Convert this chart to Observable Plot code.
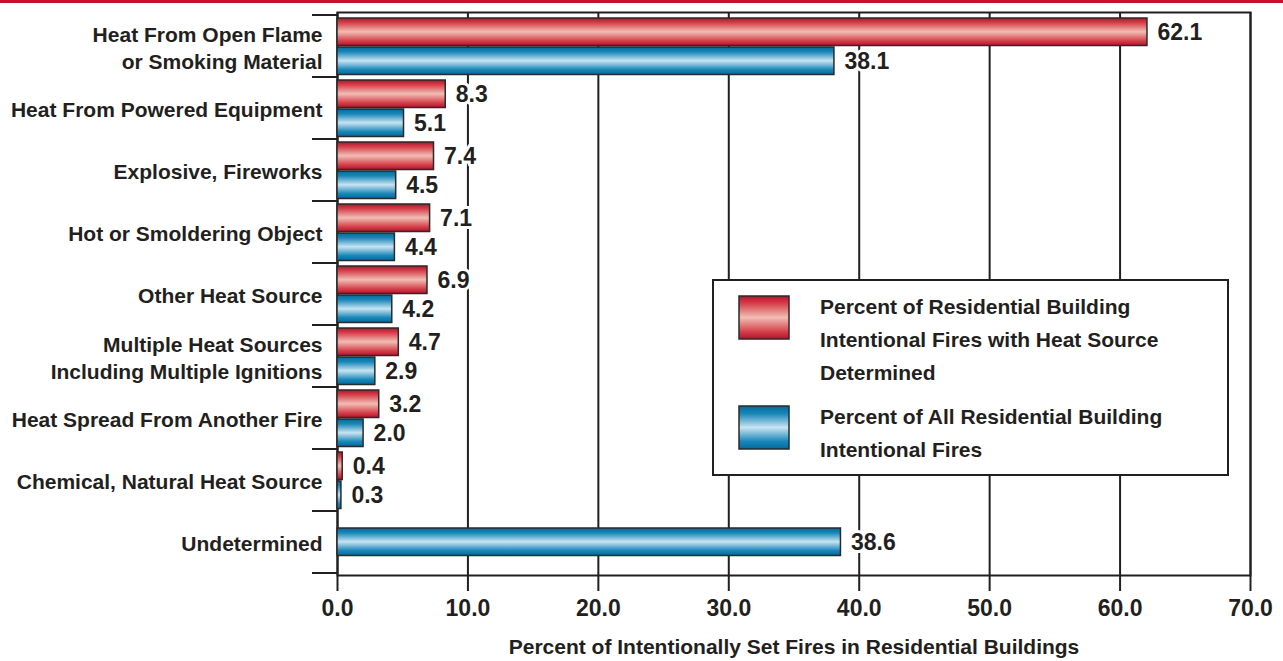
<!DOCTYPE html>
<html><head><meta charset="utf-8">
<script src="https://cdn.jsdelivr.net/npm/d3@7"></script>
<script src="https://cdn.jsdelivr.net/npm/@observablehq/plot@0.6"></script>
<style>
html,body{margin:0;padding:0;background:#fff;overflow:hidden;font-family:"Liberation Sans",Arial,sans-serif;}
#wrap{width:1283px;height:661px;}
#wrap svg{display:block;}
</style></head><body>
<div id="wrap"></div>
<script>
const categories = ["Heat From Open Flame\nor Smoking Material", "Heat From Powered Equipment", "Explosive, Fireworks", "Hot or Smoldering Object", "Other Heat Source", "Multiple Heat Sources\nIncluding Multiple Ignitions", "Heat Spread From Another Fire", "Chemical, Natural Heat Source", "Undetermined"];
const determinedPct = [62.1, 8.3, 7.4, 7.1, 6.9, 4.7, 3.2, 0.4, null];
const allPct = [38.1, 5.1, 4.5, 4.4, 4.2, 2.9, 2.0, 0.3, 38.6];
const xTicks = [0, 10, 20, 30, 40, 50, 60, 70];
const seriesNames = [
  ["Percent of Residential Building", "Intentional Fires with Heat Source", "Determined"],
  ["Percent of All Residential Building", "Intentional Fires"]
];
const xLabel = "Percent of Intentionally Set Fires in Residential Buildings";

const ink = "#231f20";
const fmt = d3.format(".1f");
const redRows = categories.map((c, i) => ({cat: c, v: determinedPct[i]})).filter(d => d.v != null);
const bluePaired = categories.map((c, i) => ({cat: c, v: allPct[i], paired: determinedPct[i] != null})).filter(d => d.paired);
const blueSingle = categories.map((c, i) => ({cat: c, v: allPct[i], paired: determinedPct[i] != null})).filter(d => !d.paired);

const barStroke = {stroke: "#2a2a2a", strokeWidth: 1.5};
const labelStyle = {textAnchor: "start", dx: 10, fill: ink, fontSize: 23, stroke: "white", strokeWidth: 6, paintOrder: "stroke"};

const plot = Plot.plot({
  width: 1283, height: 661,
  marginTop: 12, marginBottom: 86, marginLeft: 337, marginRight: 33,
  style: {fontFamily: "'Liberation Sans', Arial, sans-serif", fontSize: "21px", fontWeight: "bold", color: ink, background: "#fff"},
  x: {domain: [0, 70]},
  y: {domain: categories, padding: 0, axis: null},
  marks: [
    Plot.ruleX(xTicks, {stroke: ink, strokeWidth: 2}),
    Plot.frame({stroke: ink, strokeWidth: 2}),
    Plot.axisX({ticks: xTicks, tickSize: 16, tickPadding: 8, tickFormat: fmt, strokeWidth: 2, fontSize: 23,
      label: null}),
    Plot.axisX({ticks: [], tickSize: 0, label: xLabel, labelAnchor: "center", labelArrow: "none", labelOffset: 78, fontSize: 21}),
    Plot.barX(redRows, {y: "cat", x: "v", fill: "url(#gradRed)", insetTop: 3, insetBottom: 31.5, ...barStroke}),
    Plot.barX(bluePaired, {y: "cat", x: "v", fill: "url(#gradBlue)", insetTop: 32, insetBottom: 2.5, ...barStroke}),
    Plot.barX(blueSingle, {y: "cat", x: "v", fill: "url(#gradBlue)", insetTop: 17, insetBottom: 17.5, ...barStroke}),
    Plot.text(redRows, {y: "cat", x: "v", text: d => fmt(d.v), dy: -14.3, ...labelStyle}),
    Plot.text(bluePaired, {y: "cat", x: "v", text: d => fmt(d.v), dy: 14.7, ...labelStyle}),
    Plot.text(blueSingle, {y: "cat", x: "v", text: d => fmt(d.v), dy: 0, ...labelStyle}),
    Plot.text(categories, {y: d => d, text: d => d, frameAnchor: "left", textAnchor: "end", dx: -15, lineHeight: 1.3, fill: ink, fontSize: 21})
  ]
});

const svg = d3.select(plot);
const defs = svg.insert("defs", ":first-child");
function grad(id, edge, mid, light) {
  const g = defs.append("linearGradient").attr("id", id).attr("x1", 0).attr("y1", 0).attr("x2", 0).attr("y2", 1);
  [[0, edge], [0.18, mid], [0.5, light], [0.82, mid], [1, edge]].forEach(([o, c]) =>
    g.append("stop").attr("offset", o).attr("stop-color", c));
}
grad("gradRed", "#b8102c", "#d5434c", "#f2bdb4");
grad("gradBlue", "#006a9c", "#1b87b9", "#c8e4f2");

// top red stripe
svg.append("rect").attr("x", 0).attr("y", 0).attr("width", 1283).attr("height", 3).attr("fill", "#c8102e");

// category separator ticks on the left
const ys = plot.scale("y"), xs = plot.scale("x");
const x0 = xs.apply(0);
const bounds = categories.map(c => ys.apply(c)).concat([ys.apply(categories[categories.length - 1]) + ys.bandwidth]);
svg.append("g").selectAll("line").data(bounds).join("line")
  .attr("x1", x0 - 25).attr("x2", x0).attr("y1", d => d).attr("y2", d => d)
  .attr("stroke", ink).attr("stroke-width", 2);

// legend
const lg = svg.append("g").attr("transform", "translate(713,280)")
  .attr("text-anchor", "start")
  .style("font-family", "'Liberation Sans', Arial, sans-serif").style("font-weight", "bold").style("font-size", "21px");
lg.append("rect").attr("width", 515).attr("height", 195).attr("fill", "#fff").attr("stroke", ink).attr("stroke-width", 2);
const items = [{fill: "url(#gradRed)", y: 16, lines: seriesNames[0]}, {fill: "url(#gradBlue)", y: 126, lines: seriesNames[1]}];
items.forEach(it => {
  lg.append("rect").attr("x", 26).attr("y", it.y).attr("width", 50).attr("height", 43)
    .attr("fill", it.fill).attr("stroke", "#2a2a2a").attr("stroke-width", 1.5);
  it.lines.forEach((t, i) => lg.append("text").attr("x", 107).attr("y", it.y + 11 + i * 33)
    .attr("dy", "0.35em").attr("text-anchor", "start").attr("fill", ink).text(t));
});

document.getElementById("wrap").appendChild(plot);
</script>
</body></html>
